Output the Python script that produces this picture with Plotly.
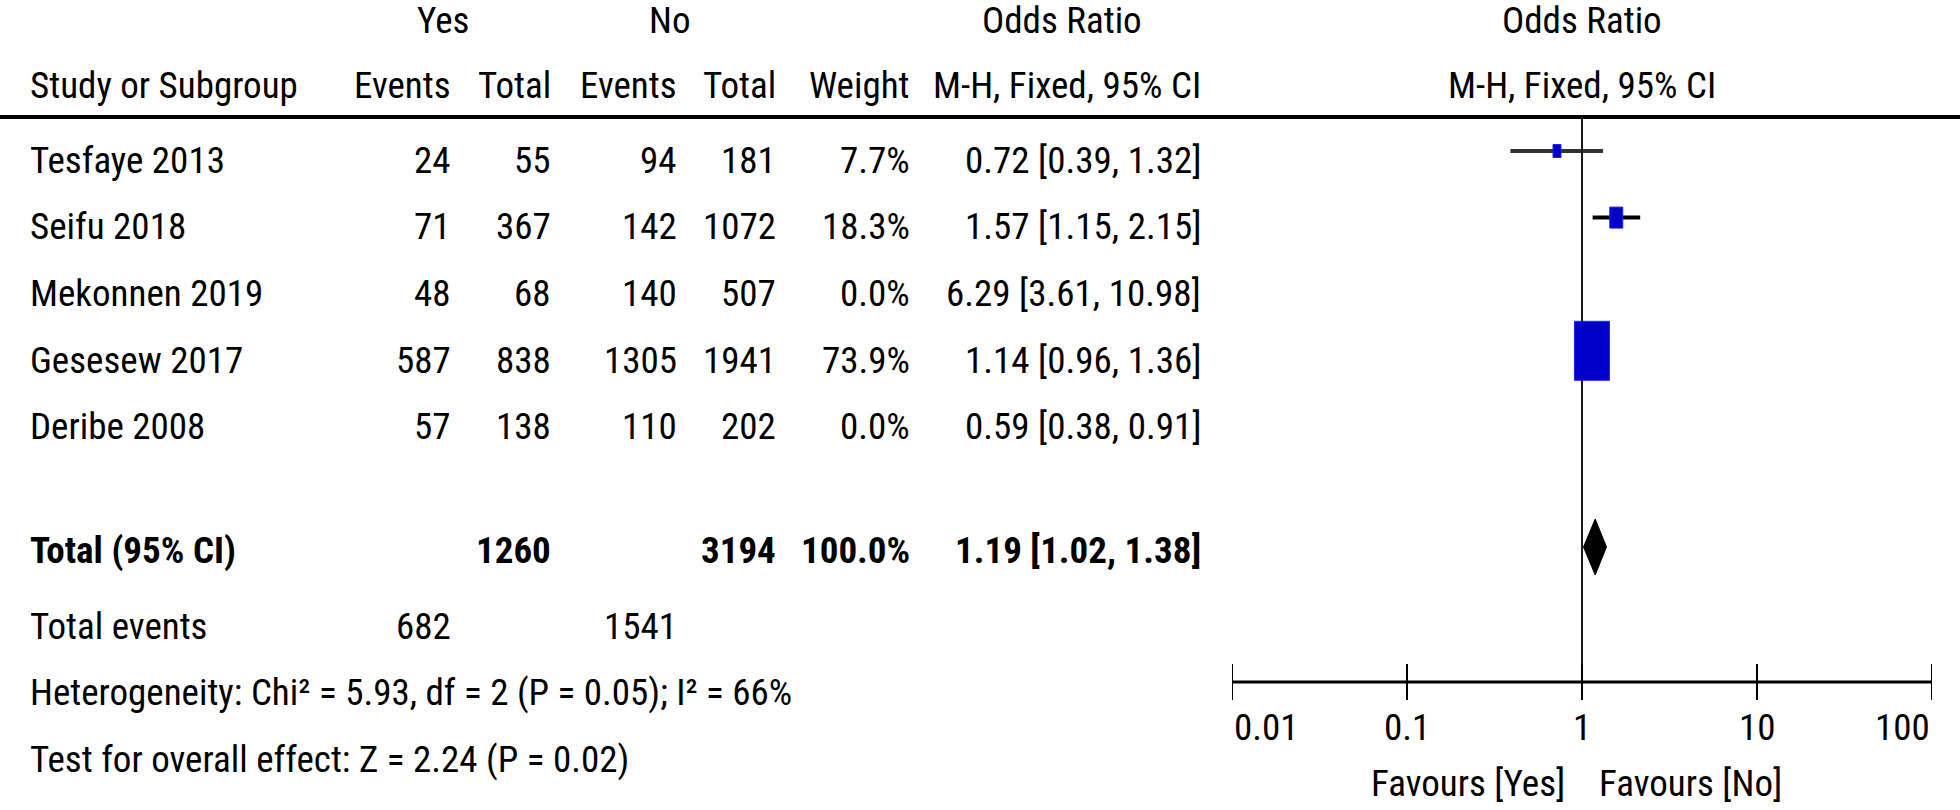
import math
import plotly.graph_objects as go

# ---------------- data ----------------
studies = ["Tesfaye 2013", "Seifu 2018", "Mekonnen 2019", "Gesesew 2017", "Deribe 2008"]
yes_events = [24, 71, 48, 587, 57]
yes_total = [55, 367, 68, 838, 138]
no_events = [94, 142, 140, 1305, 110]
no_total = [181, 1072, 507, 1941, 202]
weights = [7.7, 18.3, 0.0, 73.9, 0.0]
odds_ratio = [0.72, 1.57, 6.29, 1.14, 0.59]
ci_low = [0.39, 1.15, 3.61, 0.96, 0.38]
ci_high = [1.32, 2.15, 10.98, 1.36, 0.91]

total_yes_n = 1260
total_no_n = 3194
total_weight = 100.0
pooled_or = 1.19
pooled_low = 1.02
pooled_high = 1.38
total_yes_events = 682
total_no_events = 1541
heterogeneity_text = "Heterogeneity: Chi² = 5.93, df = 2 (P = 0.05); I² = 66%"
overall_text = "Test for overall effect: Z = 2.24 (P = 0.02)"

tick_values = [0.01, 0.1, 1, 10, 100]
tick_labels = ["0.01", "0.1", "1", "10", "100"]
favours_left = "Favours [Yes]"
favours_right = "Favours [No]"

# ---------------- style / layout ----------------
W, H = 1960, 810
FONT = "Liberation Sans Narrow, Arial Narrow, Roboto Condensed, Liberation Sans, sans-serif"
FS = 37
TOP_PX = 151.0      # pixel centre of first row marks
ROW_PX = 66.6       # pixels per row
BLUE = "#0000c8"
box_px = {0: (8, 13), 1: (13, 21), 3: (35, 59)}   # pixel box sizes (w, h)
ci_colors = {0: "#333333", 1: "#000000", 3: "#000000"}

def row_of_px(p):
    return (p - TOP_PX) / ROW_PX

def xp(p):
    return p / W

col_name = 28
col_yes_ev = 453
col_yes_tot = 553
col_no_ev = 679
col_no_tot = 778
col_weight = 912
col_or = 1203

text_offset = 0.14
total_row = row_of_px(550)
diamond_row = row_of_px(547)
diamond_half = 28 / ROW_PX
events_row = row_of_px(626)
het_row = row_of_px(692)
test_row = row_of_px(759)
head1_row = row_of_px(20)
head2_row = row_of_px(85)
header_line_row = row_of_px(117)
axis_row = row_of_px(682)
tick_half = 18 / ROW_PX
ticklabel_row = row_of_px(727)
favours_row = row_of_px(783)

fig = go.Figure()
annotations = []

def txt(text, x_px, row, anchor="right", bold=False, xref="paper"):
    annotations.append(dict(
        text=("<b>%s</b>" % text) if bold else text,
        x=xp(x_px) if xref == "paper" else x_px, xref=xref,
        y=row, yref="y",
        xanchor=anchor, yanchor="middle", showarrow=False,
        font=dict(family=FONT, size=FS, color="black"),
    ))

# headers
txt("Yes", 443, head1_row, "center")
txt("No", 670, head1_row, "center")
txt("Odds Ratio", 1062, head1_row, "center")
txt("Odds Ratio", 0, head1_row, "center", xref="x")
txt("Study or Subgroup", col_name, head2_row, "left")
txt("Events", col_yes_ev, head2_row)
txt("Total", col_yes_tot, head2_row)
txt("Events", col_no_ev, head2_row)
txt("Total", col_no_tot, head2_row)
txt("Weight", col_weight, head2_row)
txt("M-H, Fixed, 95% CI", col_or, head2_row)
txt("M-H, Fixed, 95% CI", 0, head2_row, "center", xref="x")

# study rows
for i, s in enumerate(studies):
    r = i + text_offset
    txt(s, col_name, r, "left")
    txt(str(yes_events[i]), col_yes_ev, r)
    txt(str(yes_total[i]), col_yes_tot, r)
    txt(str(no_events[i]), col_no_ev, r)
    txt(str(no_total[i]), col_no_tot, r)
    txt("%.1f%%" % weights[i], col_weight, r)
    txt("%.2f [%.2f, %.2f]" % (odds_ratio[i], ci_low[i], ci_high[i]), col_or, r)

# total rows
txt("Total (95% CI)", col_name, total_row, "left", bold=True)
txt(str(total_yes_n), col_yes_tot, total_row, bold=True)
txt(str(total_no_n), col_no_tot, total_row, bold=True)
txt("%.1f%%" % total_weight, col_weight, total_row, bold=True)
txt("%.2f [%.2f, %.2f]" % (pooled_or, pooled_low, pooled_high), col_or, total_row, bold=True)
txt("Total events", col_name, events_row, "left")
txt(str(total_yes_events), col_yes_ev, events_row)
txt(str(total_no_events), col_no_ev, events_row)
txt(heterogeneity_text, col_name, het_row, "left")
txt(overall_text, col_name, test_row, "left")

# tick labels
for k, (tv, tl) in enumerate(zip(tick_values, tick_labels)):
    anchor = "left" if k == 0 else ("right" if k == len(tick_values) - 1 else "center")
    txt(tl, math.log10(tv), ticklabel_row, anchor, xref="x")

txt(favours_left, 1567, favours_row, "right")
txt(favours_right, 1597, favours_row, "left")

shapes = []
# header rule
shapes.append(dict(type="line", xref="paper", yref="y", x0=0, x1=1,
                   y0=header_line_row, y1=header_line_row,
                   line=dict(color="black", width=4)))
# null line at OR = 1
shapes.append(dict(type="line", xref="x", yref="y", x0=math.log10(1), x1=math.log10(1),
                   y0=header_line_row, y1=axis_row, line=dict(color="#1a1a1a", width=2)))
# x axis line and ticks
lo_t, hi_t = math.log10(tick_values[0]), math.log10(tick_values[-1])
shapes.append(dict(type="line", xref="x", yref="y", x0=lo_t, x1=hi_t,
                   y0=axis_row, y1=axis_row, line=dict(color="black", width=3)))
for tv in tick_values:
    shapes.append(dict(type="line", xref="x", yref="y", x0=math.log10(tv), x1=math.log10(tv),
                       y0=axis_row - tick_half, y1=axis_row + tick_half,
                       line=dict(color="black", width=2)))

# CI lines and weight boxes
for i in range(len(studies)):
    if weights[i] <= 0:
        continue
    fig.add_trace(go.Scatter(
        x=[math.log10(ci_low[i]), math.log10(ci_high[i])], y=[i, i],
        mode="lines", line=dict(color=ci_colors.get(i, "black"), width=4),
        hoverinfo="skip"))
    bw, bh = box_px[i]
    shapes.append(dict(type="rect", xref="x", yref="y",
                       xsizemode="pixel", ysizemode="pixel",
                       xanchor=math.log10(odds_ratio[i]), yanchor=i,
                       x0=-bw / 2, x1=bw / 2, y0=-bh / 2, y1=bh / 2,
                       fillcolor=BLUE, line=dict(color="#2323e6", width=1), layer="above"))

# pooled diamond
lx, cx, hx = math.log10(pooled_low), math.log10(pooled_or), math.log10(pooled_high)
fig.add_trace(go.Scatter(
    x=[lx, cx, hx, cx, lx], y=[diamond_row, diamond_row - diamond_half, diamond_row,
                               diamond_row + diamond_half, diamond_row],
    mode="lines", fill="toself", fillcolor="black",
    line=dict(color="black", width=1), hoverinfo="skip"))

fig.update_layout(
    width=W, height=H,
    margin=dict(l=0, r=0, t=0, b=0),
    paper_bgcolor="white", plot_bgcolor="white",
    showlegend=False,
    xaxis=dict(domain=[1232 / W, 1932 / W], range=[lo_t, hi_t], visible=False, fixedrange=True),
    yaxis=dict(domain=[0, 1], range=[row_of_px(H), row_of_px(0)], visible=False, fixedrange=True),
    annotations=annotations,
    shapes=shapes,
)

fig.write_html("out.html", config={"displayModeBar": False},
               post_script="document.body.style.margin='0px';document.body.style.overflow='hidden';")
